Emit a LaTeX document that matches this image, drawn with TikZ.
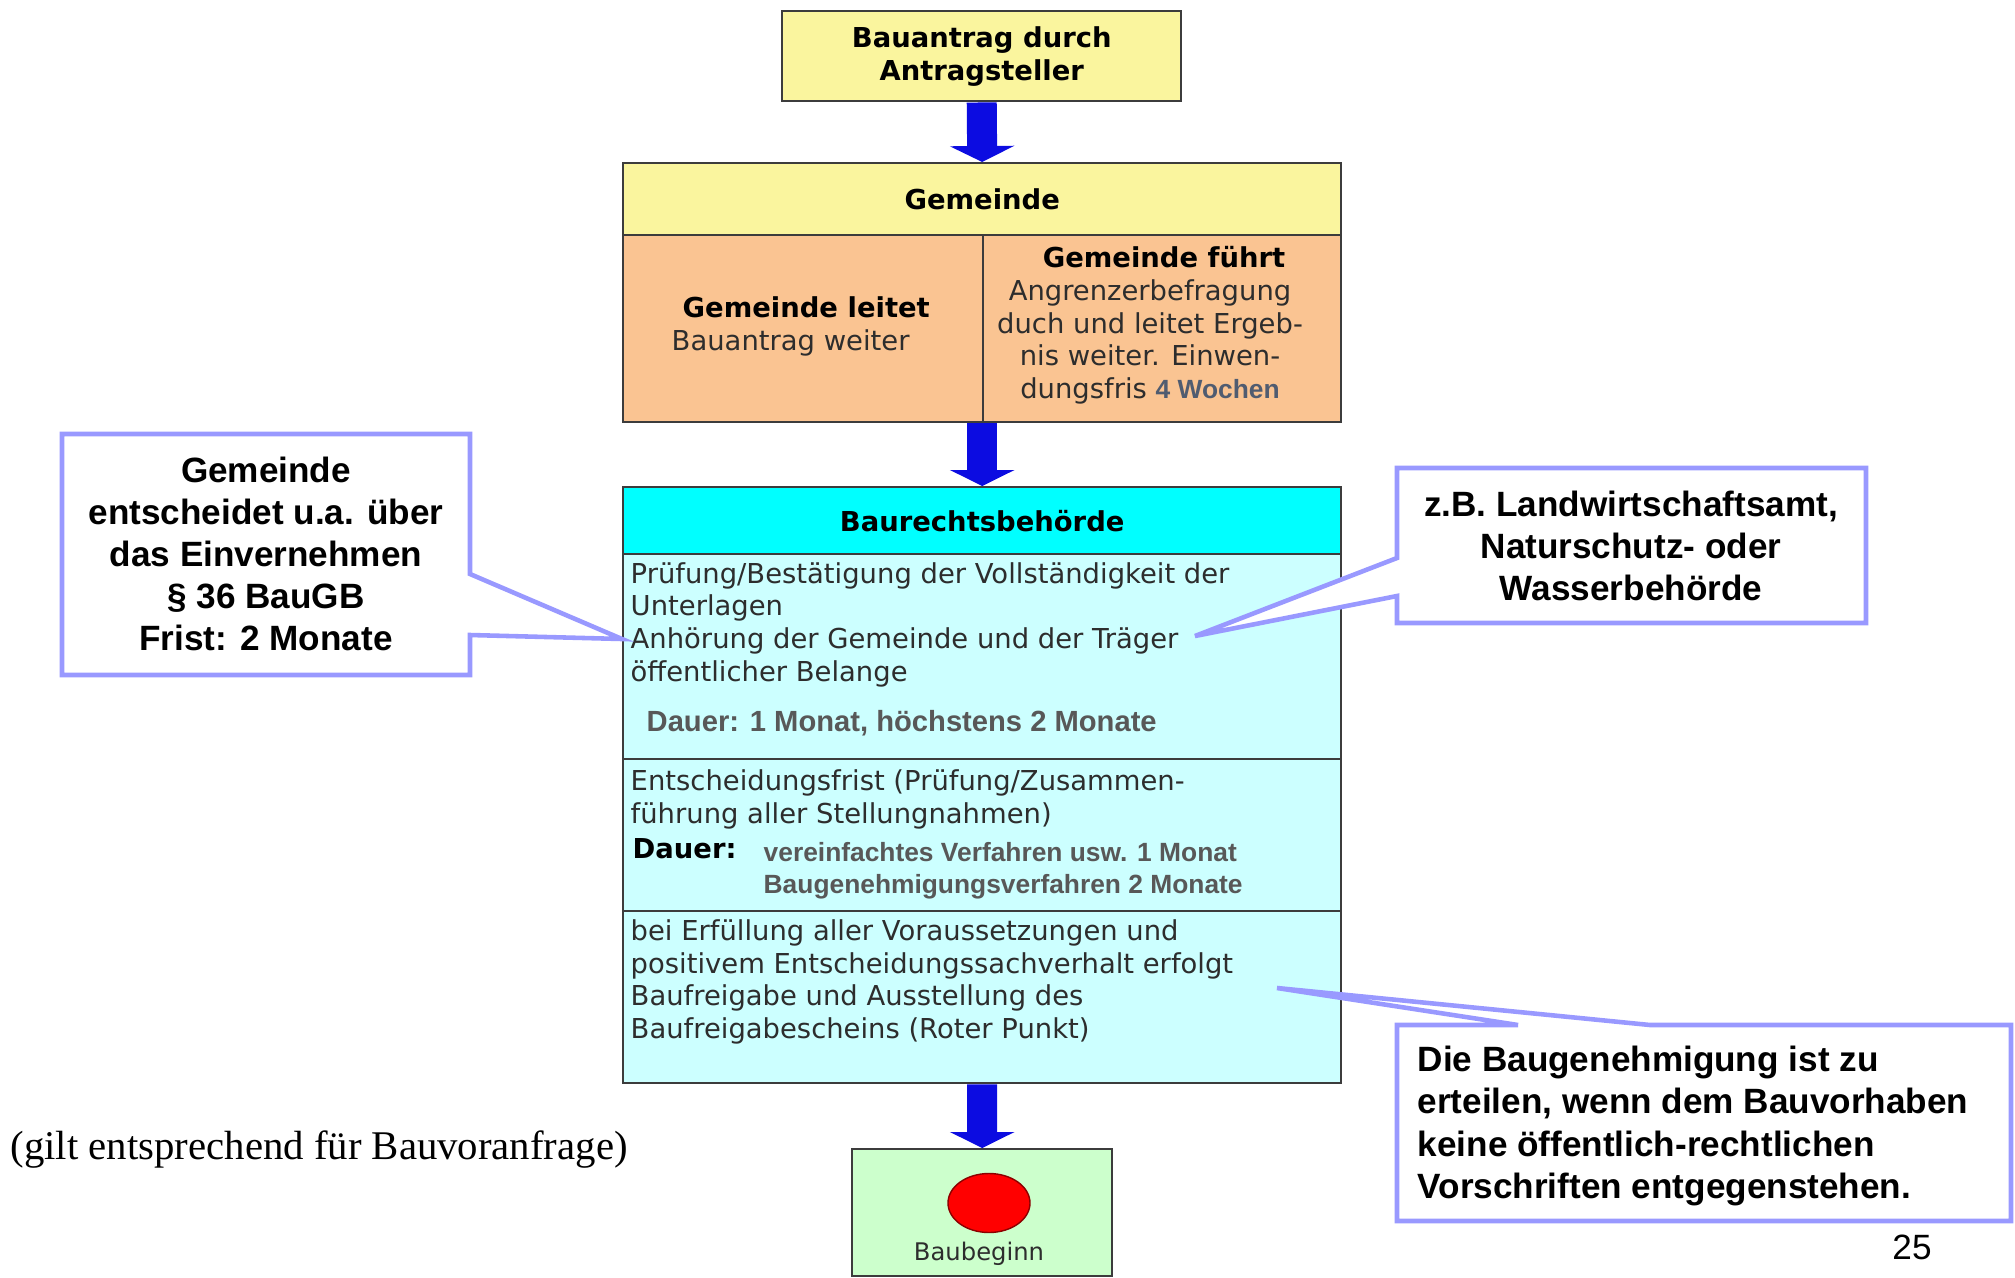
\documentclass[tikz,border=0pt]{standalone}
\usepackage{fontspec}
\setmainfont{Liberation Sans}
\newfontfamily\boxfont{DejaVu Sans}
\newfontfamily\notefont{Liberation Serif}
\usepackage{tikz}
\usetikzlibrary{
  arrows.meta,
  shapes.geometric,  % Shape "ellipse"
}
\definecolor{hdyellow}{RGB}{250,245,158}
\definecolor{cellorange}{RGB}{250,196,146}
\definecolor{hdcyan}{RGB}{0,255,255}
\definecolor{cellcyan}{RGB}{204,255,255}
\definecolor{cellgreen}{RGB}{204,255,204}
\definecolor{arrowblue}{RGB}{12,12,225}
\definecolor{calloutblue}{RGB}{153,153,255}
\definecolor{framegray}{RGB}{60,60,60}
\definecolor{textgray}{RGB}{45,45,45}
\definecolor{dauergray}{RGB}{88,88,88}
\definecolor{wochengray}{RGB}{80,92,112}
\def\mywidth{71.8mm}
\def\boxsize{\fontsize{7.8}{9.3}\selectfont}
\newcommand{\wochen}[1]{{\fontfamily{\rmdefault}\normalfont\fontsize{7.5}{9}\selectfont\bfseries\color{wochengray}#1}}
\tikzset{
  semithick,
  flow box/.style={
    draw=framegray,
    line width=0.7pt,
    inner sep=0pt,
    anchor=north west
  },
  head cell/.style={
    flow box,
    font=\boxfont\boxsize\bfseries,
    text=black
  },
  box text/.style={
    inner sep=0pt,
    font=\boxfont\boxsize,
    text=textgray
  },
  gray note/.style={
    inner sep=0pt,
    font=\fontsize{8.3}{10}\selectfont\bfseries,
    text=dauergray
  },
  gray small/.style={
    inner sep=0pt,
    font=\fontsize{7.5}{9.1}\selectfont\bfseries,
    text=dauergray
  },
  callout line/.style={
    draw=calloutblue,
    fill=white,
    line width=1.3pt
  },
  callout text/.style={
    inner sep=0pt,
    font=\fontsize{10}{12}\selectfont\bfseries
  },
  big arrow/.style={
    draw=arrowblue,
    line width=3mm,
    -{Triangle[length=1.6mm,width=6.4mm]}
  }
}
\begin{document}
\begin{tikzpicture}[x=0.1mm,y=-0.1mm]
\useasboundingbox (0,0) rectangle (2015,1277);

% Antrag and Gemeinde
\node[head cell, fill=hdyellow, align=center, minimum width=39.9mm, minimum height=9mm]
  (antrag) at (781,10) {Bauantrag durch\\Antragsteller};
\node[head cell, fill=hdyellow, minimum width=\mywidth, minimum height=7.2mm]
  (gemhead) at (622,162) {Gemeinde};
\node[flow box, fill=cellorange, minimum width=36mm, minimum height=18.7mm]
  (gemleft) at (622,234) {};
\node[flow box, fill=cellorange, minimum width=35.8mm, minimum height=18.7mm]
  (gemright) at (982,234) {};
\node[box text, align=left, anchor=west] (leitet) at (671,326.5)
  {\hspace*{1.1mm}\textbf{\color{black}Gemeinde leitet}\\Bauantrag weiter};
\node[box text, align=center] (fuehrt) at (1150,325.5)
  {\hspace*{2.8mm}\textbf{\color{black}Gemeinde führt}\\Angrenzerbefragung\\duch und leitet Ergeb-\\nis weiter. Einwen-\\dungsfris \wochen{4 Wochen}};

% Baurechtsbehoerde
\node[head cell, fill=hdcyan, minimum width=\mywidth, minimum height=6.7mm]
  (bhead) at (622,486) {Baurechtsbehörde};
\node[flow box, fill=cellcyan, minimum width=\mywidth, minimum height=20.5mm]
  (bsec1) at (622,553) {};
\node[flow box, fill=cellcyan, minimum width=\mywidth, minimum height=15.2mm]
  (bsec2) at (622,758) {};
\node[flow box, fill=cellcyan, minimum width=\mywidth, minimum height=17.2mm]
  (bsec3) at (622,910) {};
\node[box text, align=left, anchor=west] (pruefung) at (630,624.5)
  {Prüfung/Bestätigung der Vollständigkeit der\\Unterlagen\\Anhörung der Gemeinde und der Träger\\öffentlicher Belange};
\node[gray note, anchor=west] (dauereins) at (646,723)
  {Dauer: 1 Monat, höchstens 2 Monate};
\node[box text, align=left, anchor=west] (entscheidung) at (630,799.5)
  {Entscheidungsfrist (Prüfung/Zusammen-\\führung aller Stellungnahmen)};
\node[box text, anchor=west, font=\boxfont\boxsize\bfseries, text=black] (dauerzwei) at (632,849) {Dauer:};
\node[gray small, align=left, anchor=west] (fristen) at (763,871)
  {vereinfachtes Verfahren usw. 1 Monat\\Baugenehmigungsverfahren 2 Monate};
\node[box text, align=left, anchor=west] (freigabe) at (630,982)
  {bei Erfüllung aller Voraussetzungen und\\positivem Entscheidungssachverhalt erfolgt\\Baufreigabe und Ausstellung des\\Baufreigabescheins (Roter Punkt)};

% Baubeginn
\node[flow box, fill=cellgreen, minimum width=26mm, minimum height=12.7mm]
  (baubeginn) at (851,1148) {};
\node[ellipse, fill=red, draw=red!55!black, thin, inner sep=0pt,
  minimum width=8.2mm, minimum height=5.9mm] (punkt) at (989,1203) {};
\node[box text, font=\boxfont\fontsize{6.9}{8}\selectfont] (beginn) at (979,1254) {Baubeginn};

% Arrows
\draw[big arrow] (antrag.south) -- (gemhead.north);
\draw[big arrow] (bhead.north |- gemleft.south) -- (bhead.north);
\draw[big arrow] (bsec3.south) -- (baubeginn.north);

% Callouts
\coordinate (tipgem) at (622,639);
\coordinate (tiptraeger) at (1195,636);
\coordinate (tipfrei) at (1277,988);
\path[callout line] (62,434) -- (470,434) -- (470,574) -- (tipgem)
  -- (470,635) -- (470,675) -- (62,675) -- cycle;
\node[callout text, align=center] (einvernehmen) at (266,554)
  {Gemeinde\\entscheidet u.a. über\\das Einvernehmen\\§ 36 BauGB\\Frist: 2 Monate};
\path[callout line] (1397,468) -- (1866,468) -- (1866,623) -- (1397,623)
  -- (1397,596) -- (tiptraeger) -- (1397,558) -- cycle;
\node[callout text, align=center] (aemter) at (1631,546)
  {z.B. Landwirtschaftsamt,\\Naturschutz- oder\\Wasserbehörde};
\path[callout line] (1397,1025) -- (1518,1025) -- (tipfrei) -- (1650,1025)
  -- (2011,1025) -- (2011,1221) -- (1397,1221) -- cycle;
\node[callout text, align=left, anchor=west] (genehmigung) at (1417,1126)
  {Die Baugenehmigung ist zu\\erteilen, wenn dem Bauvorhaben\\keine öffentlich-rechtlichen\\Vorschriften entgegenstehen.};

% Notes
\node[inner sep=0pt, anchor=west, font=\notefont\fontsize{11.6}{14}\selectfont]
  (voranfrage) at (10,1150) {(gilt entsprechend für Bauvoranfrage)};
\node[inner sep=0pt, font=\fontsize{10}{12}\selectfont] (seite) at (1912,1247) {25};
\end{tikzpicture}
\end{document}
